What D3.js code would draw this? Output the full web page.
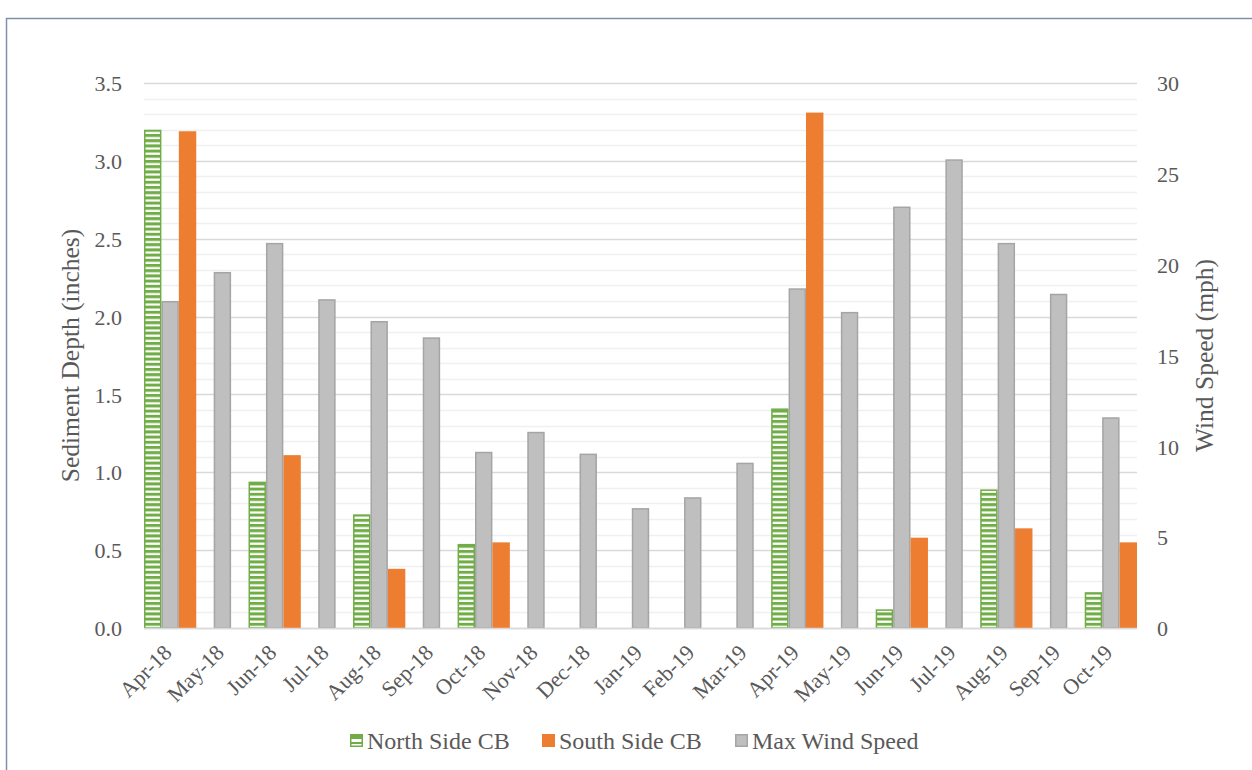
<!DOCTYPE html>
<html><head><meta charset="utf-8">
<script src="https://cdn.jsdelivr.net/npm/d3@7"></script>
<style>
body{margin:0;background:#fff;}
svg{display:block;font-family:"Liberation Serif","Times New Roman",serif;}
</style></head>
<body><svg id="chart" width="1252" height="770"></svg>
<script>
const categories = ["Apr-18","May-18","Jun-18","Jul-18","Aug-18","Sep-18","Oct-18","Nov-18","Dec-18","Jan-19","Feb-19","Mar-19","Apr-19","May-19","Jun-19","Jul-19","Aug-19","Sep-19","Oct-19"];
const northSide = [3.2,0,0.94,0,0.73,0,0.54,0,0,0,0,0,1.41,0,0.12,0,0.89,0,0.23];
const southSide = [3.19,0,1.11,0,0.38,0,0.55,0,0,0,0,0,3.31,0,0.58,0,0.64,0,0.55];
const windSpeed = [18.0,19.6,21.2,18.1,16.9,16.0,9.7,10.8,9.6,6.6,7.2,9.1,18.7,17.4,23.2,25.8,21.2,18.4,11.6];
const leftTicks = [0,0.5,1.0,1.5,2.0,2.5,3.0,3.5];
const rightTicks = [0,5,10,15,20,25,30];
const seriesNames = ["North Side CB","South Side CB","Max Wind Speed"];

const svg = d3.select("#chart");
const M = {left:144, right:1137, top:83, bottom:628};
const textColor = "#595959";

// frame
svg.append("path").attr("d","M6.5,770 L6.5,18.5 L1252,18.5").attr("fill","none").attr("stroke","#8090aa").attr("stroke-width",1.5);

const defs = svg.append("defs");
const pat = defs.append("pattern").attr("id","hatch").attr("patternUnits","userSpaceOnUse")
  .attr("width",10).attr("height",5.2).attr("y",M.bottom);
pat.append("rect").attr("width",10).attr("height",5.2).attr("fill","#ffffff");
pat.append("rect").attr("width",10).attr("height",3).attr("fill","#70ad47");

const x = d3.scaleBand().domain(categories).range([M.left,M.right]).paddingInner(0).paddingOuter(0);
const sub = d3.scaleBand().domain(["n","w","s"]).range([0,x.bandwidth()]).padding(0);
const yL = d3.scaleLinear().domain([0,3.5]).range([M.bottom,M.top]);
const yR = d3.scaleLinear().domain([0,30]).range([M.bottom,M.top]);

// minor gridlines
const minor = d3.range(0,36).map(i=>i*0.1).filter(v=>Math.abs(v*2-Math.round(v*2))>1e-6);
svg.append("g").selectAll("line").data(minor).join("line")
  .attr("x1",M.left).attr("x2",M.right)
  .attr("y1",d=>Math.round(yL(d))+0.5).attr("y2",d=>Math.round(yL(d))+0.5)
  .attr("stroke","#f0f0f0").attr("stroke-width",1.5);
// major gridlines
svg.append("g").selectAll("line").data(leftTicks).join("line")
  .attr("x1",M.left).attr("x2",M.right)
  .attr("y1",d=>Math.round(yL(d))+0.5).attr("y2",d=>Math.round(yL(d))+0.5)
  .attr("stroke","#d9d9d9").attr("stroke-width",1.5);

// bars
const g = svg.append("g");
g.selectAll("rect.n").data(categories).join("rect").attr("class","n")
  .attr("x",(d)=>x(d)+sub("n")+0.75).attr("width",sub.bandwidth()-1.5)
  .attr("y",(d,i)=>yL(northSide[i])+0.75).attr("height",(d,i)=>Math.max(0,yL(0)-yL(northSide[i])-0.75))
  .attr("fill","url(#hatch)").attr("stroke","#70ad47").attr("stroke-width",1.5)
  .attr("display",(d,i)=>northSide[i]>0?null:"none");
g.selectAll("rect.w").data(categories).join("rect").attr("class","w")
  .attr("x",(d)=>x(d)+sub("w")+0.75).attr("width",sub.bandwidth()-1.5)
  .attr("y",(d,i)=>yR(windSpeed[i])+0.75).attr("height",(d,i)=>yR(0)-yR(windSpeed[i])-0.75)
  .attr("fill","#bfbfbf").attr("stroke","#a5a5a5").attr("stroke-width",1.5);
g.selectAll("rect.s").data(categories).join("rect").attr("class","s")
  .attr("x",(d)=>x(d)+sub("s")).attr("width",sub.bandwidth())
  .attr("y",(d,i)=>yL(southSide[i])).attr("height",(d,i)=>yL(0)-yL(southSide[i]))
  .attr("fill","#ed7d31")
  .attr("display",(d,i)=>southSide[i]>0?null:"none");

// bottom axis line
svg.append("line").attr("x1",M.left).attr("x2",M.right).attr("y1",M.bottom+0.5).attr("y2",M.bottom+0.5)
  .attr("stroke","#d9d9d9").attr("stroke-width",1.5);

// left axis labels
const axL = svg.append("g").attr("transform",`translate(${M.left-22},0)`)
  .call(d3.axisLeft(yL).tickValues(leftTicks).tickFormat(d3.format(".1f")).tickSize(0).tickPadding(0));
axL.select(".domain").remove();
axL.selectAll("text").attr("font-family","Liberation Serif").attr("font-size",22).attr("fill",textColor).attr("dy","0.35em");

const axR = svg.append("g").attr("transform",`translate(${M.right+20},0)`)
  .call(d3.axisRight(yR).tickValues(rightTicks).tickFormat(d3.format("d")).tickSize(0).tickPadding(0));
axR.select(".domain").remove();
axR.selectAll("text").attr("font-family","Liberation Serif").attr("font-size",22).attr("fill",textColor).attr("dy","0.35em");

// x labels
svg.append("g").selectAll("text").data(categories).join("text")
  .attr("transform",d=>`translate(${x(d)+x.bandwidth()/2+3},${M.bottom+26}) rotate(-45)`)
  .attr("text-anchor","end")
  .attr("font-size",22).attr("fill",textColor).text(d=>d);

// axis titles
svg.append("text").attr("transform",`translate(79,${(M.top+M.bottom)/2}) rotate(-90)`)
  .attr("text-anchor","middle").attr("font-size",25.5).attr("fill",textColor).text("Sediment Depth (inches)");
svg.append("text").attr("transform",`translate(1213,${(M.top+M.bottom)/2}) rotate(-90)`)
  .attr("text-anchor","middle").attr("font-size",25.5).attr("fill",textColor).text("Wind Speed (mph)");

// legend
const legX = [350,542,735];
const lg = svg.append("g");
seriesNames.forEach((name,i)=>{
  const gx = legX[i], gy = 734, s = 13;
  if(i===0){
    lg.append("rect").attr("x",gx+0.75).attr("y",gy+0.75).attr("width",s-1.5).attr("height",s-1.5).attr("fill","#fff").attr("stroke","#70ad47").attr("stroke-width",1.5);
    lg.append("rect").attr("x",gx).attr("y",gy).attr("width",s).attr("height",5).attr("fill","#70ad47");
    lg.append("rect").attr("x",gx).attr("y",gy+8).attr("width",s).attr("height",2).attr("fill","#70ad47");
  } else if(i===1){
    lg.append("rect").attr("x",gx).attr("y",gy).attr("width",s).attr("height",s).attr("fill","#ed7d31");
  } else {
    lg.append("rect").attr("x",gx+0.75).attr("y",gy+0.75).attr("width",s-1.5).attr("height",s-1.5).attr("fill","#bfbfbf").attr("stroke","#a5a5a5").attr("stroke-width",1.5);
  }
  lg.append("text").attr("x",gx+17).attr("y",gy+6.5).attr("dy","0.35em").attr("font-size",24).attr("fill",textColor).text(name);
});
</script></body></html>
